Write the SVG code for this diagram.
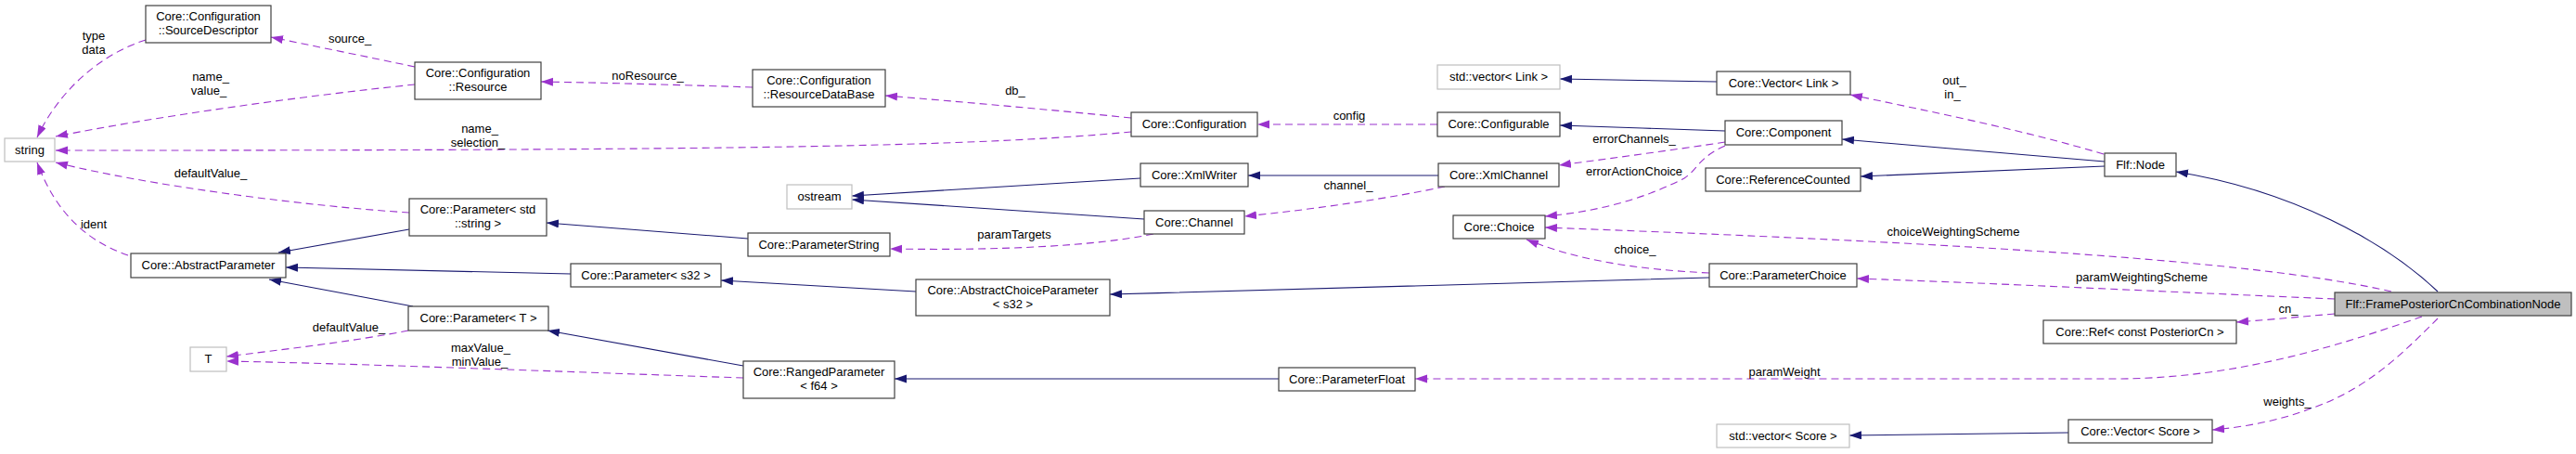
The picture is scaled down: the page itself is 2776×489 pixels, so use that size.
<svg xmlns="http://www.w3.org/2000/svg" width="2776" height="489" viewBox="0 0 2776 489">
<defs>
<style>
.n rect{fill:#ffffff;stroke:#404040;stroke-width:1.2}
.g rect{fill:#ffffff;stroke:#bfbfbf;stroke-width:1.2}
.hl rect{fill:#bfbfbf;stroke:#404040;stroke-width:1.2}
text{font-family:"Liberation Sans",Arial,Helvetica,sans-serif;font-size:13px;fill:#000000}
.t{text-anchor:middle}
.u{fill:none;stroke:#9a32cd;stroke-width:1.1;stroke-dasharray:8,5;marker-end:url(#ap)}
.i{fill:none;stroke:#191970;stroke-width:1.1;marker-end:url(#an)}
</style>
<marker id="ap" markerWidth="14" markerHeight="10" refX="13" refY="4.5" orient="auto" markerUnits="userSpaceOnUse"><path d="M0,0 L13,4.5 L0,9 z" fill="#9a32cd"/></marker>
<marker id="an" markerWidth="14" markerHeight="10" refX="13" refY="4.5" orient="auto" markerUnits="userSpaceOnUse"><path d="M0,0 L13,4.5 L0,9 z" fill="#191970"/></marker>
</defs>
<rect x="0" y="0" width="2776" height="489" fill="#ffffff"/>
<g id="connectors">
<path class="u" d="M157,43 C110,58 65,95 40,148"/>
<path class="u" d="M447,72 C400,62 340,50 292,40"/>
<path class="u" d="M447,91 C330,103 170,125 60,147"/>
<path class="u" d="M1219,142 C1050,158 800,162 60,162"/>
<path class="u" d="M441,229 C330,222 160,200 60,175"/>
<path class="u" d="M138,275 C100,262 62,235 40,175"/>
<path class="u" d="M811,94 C750,92 650,89 583,88"/>
<path class="u" d="M1219,127 C1130,118 1040,110 954,103"/>
<path class="u" d="M1549,134 L1355,134"/>
<path class="u" d="M1243,252 C1180,265 1080,270 959,268"/>
<path class="u" d="M1557,201 C1500,213 1420,225 1341,233"/>
<path class="u" d="M1859,153 C1800,162 1740,170 1680,178"/>
<path class="u" d="M1859,157 C1830,170 1830,182 1815,192 C1770,215 1720,228 1665,233"/>
<path class="u" d="M2577,314 C2450,285 2200,265 1665,245"/>
<path class="u" d="M1842,294 C1760,290 1700,280 1645,258"/>
<path class="u" d="M2516,322 C2350,315 2150,305 2001,300"/>
<path class="u" d="M2516,338 C2480,341 2450,344 2410,347"/>
<path class="u" d="M2610,341 C2540,365 2420,408 2280,408 L1525,408"/>
<path class="u" d="M2627,343 C2590,380 2550,420 2490,440 C2460,452 2420,460 2384,463"/>
<path class="u" d="M2267,166 C2180,140 2080,120 1994,102"/>
<path class="u" d="M440,356 C380,368 300,377 244,384"/>
<path class="u" d="M801,407 C650,402 400,392 244,389"/>
<path class="i" d="M441,247 L300,272"/>
<path class="i" d="M615,295 C500,292 400,290 308,288"/>
<path class="i" d="M445,330 L290,301"/>
<path class="i" d="M806,257 L589,240"/>
<path class="i" d="M987,314 L777,302"/>
<path class="i" d="M801,394 L590,356"/>
<path class="i" d="M1229,192 L918,211"/>
<path class="i" d="M1233,236 L918,215"/>
<path class="i" d="M1550,189 L1345,189"/>
<path class="i" d="M1378,408 L964,408"/>
<path class="i" d="M1842,299 C1600,305 1400,312 1196,317"/>
<path class="i" d="M1859,141 C1800,139 1740,137 1681,135"/>
<path class="i" d="M1850,88 L1681,85"/>
<path class="i" d="M2268,174 C2170,166 2080,158 1985,150"/>
<path class="i" d="M2268,179 L2005,190"/>
<path class="i" d="M2627,314 C2570,260 2470,205 2345,185"/>
<path class="i" d="M2229,466 L1993,469"/>
<g id="labels">
<text class="t" x="101" y="43">type</text>
<text class="t" x="101" y="58">data</text>
<text class="t" x="377" y="46">source_</text>
<text class="t" x="227" y="87">name_</text>
<text class="t" x="225" y="102">value_</text>
<text class="t" x="227" y="191">defaultValue_</text>
<text class="t" x="101" y="246">ident</text>
<text class="t" x="376" y="357">defaultValue_</text>
<text class="t" x="698" y="86">noResource_</text>
<text class="t" x="517" y="143">name_</text>
<text class="t" x="515" y="158">selection_</text>
<text class="t" x="518" y="379">maxValue_</text>
<text class="t" x="517" y="394">minValue_</text>
<text class="t" x="1094" y="102">db_</text>
<text class="t" x="1093" y="257">paramTargets</text>
<text class="t" x="1454" y="129">config</text>
<text class="t" x="1761" y="154">errorChannels_</text>
<text class="t" x="1761" y="189">errorActionChoice</text>
<text class="t" x="1453" y="204">channel_</text>
<text class="t" x="1762" y="273">choice_</text>
<text class="t" x="2106" y="91">out_</text>
<text class="t" x="2104" y="106">in_</text>
<text class="t" x="2105" y="254">choiceWeightingScheme</text>
<text class="t" x="2308" y="303">paramWeightingScheme</text>
<text class="t" x="2466" y="337">cn_</text>
<text class="t" x="1923" y="405">paramWeight</text>
<text class="t" x="2465" y="437">weights_</text>
</g>
</g>
<g id="n_fpccn" class="hl"><rect x="2516" y="315" width="255" height="25"/><text class="t" x="2643.5" y="331.5">Flf::FramePosteriorCnCombinationNode</text></g>
<g id="n_flfnode" class="n"><rect x="2268" y="165" width="77" height="25"/><text class="t" x="2306.5" y="181.5">Flf::Node</text></g>
<g id="n_component" class="n"><rect x="1859" y="130" width="126" height="26"/><text class="t" x="1922" y="147">Core::Component</text></g>
<g id="n_configurable" class="n"><rect x="1549" y="121" width="132" height="26"/><text class="t" x="1615" y="138">Core::Configurable</text></g>
<g id="n_configuration" class="n"><rect x="1219" y="121" width="136" height="26"/><text class="t" x="1287" y="138">Core::Configuration</text></g>
<g id="n_resourcedatabase" class="n"><rect x="811" y="75" width="143" height="40"/><text class="t" x="882.5" y="90.5">Core::Configuration</text><text class="t" x="882.5" y="105.5">::ResourceDataBase</text></g>
<g id="n_resource" class="n"><rect x="447" y="67" width="136" height="40"/><text class="t" x="515" y="82.5">Core::Configuration</text><text class="t" x="515" y="97.5">::Resource</text></g>
<g id="n_sourcedescriptor" class="n"><rect x="157" y="6" width="135" height="40"/><text class="t" x="224.5" y="21.5">Core::Configuration</text><text class="t" x="224.5" y="36.5">::SourceDescriptor</text></g>
<g id="n_string" class="g"><rect x="5" y="149" width="54" height="25"/><text class="t" x="32" y="165.5">string</text></g>
<g id="n_param_stdstring" class="n"><rect x="441" y="214" width="148" height="40"/><text class="t" x="515" y="229.5">Core::Parameter&lt; std</text><text class="t" x="515" y="244.5">::string &gt;</text></g>
<g id="n_abstractparameter" class="n"><rect x="141" y="273" width="167" height="26"/><text class="t" x="224.5" y="290">Core::AbstractParameter</text></g>
<g id="n_param_s32" class="n"><rect x="615" y="284" width="162" height="25"/><text class="t" x="696" y="300.5">Core::Parameter&lt; s32 &gt;</text></g>
<g id="n_param_T" class="n"><rect x="440" y="330" width="151" height="26"/><text class="t" x="515.5" y="347">Core::Parameter&lt; T &gt;</text></g>
<g id="n_T" class="g"><rect x="205" y="374" width="39" height="26"/><text class="t" x="224.5" y="391">T</text></g>
<g id="n_rangedparameter" class="n"><rect x="801" y="389" width="163" height="40"/><text class="t" x="882.5" y="404.5">Core::RangedParameter</text><text class="t" x="882.5" y="419.5">&lt; f64 &gt;</text></g>
<g id="n_parameterstring" class="n"><rect x="806" y="251" width="153" height="25"/><text class="t" x="882.5" y="267.5">Core::ParameterString</text></g>
<g id="n_ostream" class="g"><rect x="848" y="199" width="70" height="26"/><text class="t" x="883" y="216">ostream</text></g>
<g id="n_xmlwriter" class="n"><rect x="1229" y="176" width="116" height="25"/><text class="t" x="1287" y="192.5">Core::XmlWriter</text></g>
<g id="n_channel" class="n"><rect x="1233" y="227" width="108" height="25"/><text class="t" x="1287" y="243.5">Core::Channel</text></g>
<g id="n_xmlchannel" class="n"><rect x="1550" y="176" width="130" height="25"/><text class="t" x="1615" y="192.5">Core::XmlChannel</text></g>
<g id="n_choice" class="n"><rect x="1566" y="232" width="99" height="25"/><text class="t" x="1615.5" y="248.5">Core::Choice</text></g>
<g id="n_abstractchoiceparameter" class="n"><rect x="987" y="301" width="209" height="39"/><text class="t" x="1091.5" y="316.5">Core::AbstractChoiceParameter</text><text class="t" x="1091.5" y="331.5">&lt; s32 &gt;</text></g>
<g id="n_parameterfloat" class="n"><rect x="1378" y="396" width="147" height="25"/><text class="t" x="1451.5" y="412.5">Core::ParameterFloat</text></g>
<g id="n_stdvector_link" class="g"><rect x="1549" y="70" width="132" height="26"/><text class="t" x="1615" y="87">std::vector&lt; Link &gt;</text></g>
<g id="n_vector_link" class="n"><rect x="1850" y="77" width="144" height="25"/><text class="t" x="1922" y="93.5">Core::Vector&lt; Link &gt;</text></g>
<g id="n_referencecounted" class="n"><rect x="1838" y="181" width="167" height="25"/><text class="t" x="1921.5" y="197.5">Core::ReferenceCounted</text></g>
<g id="n_parameterchoice" class="n"><rect x="1842" y="284" width="159" height="25"/><text class="t" x="1921.5" y="300.5">Core::ParameterChoice</text></g>
<g id="n_ref_posteriorcn" class="n"><rect x="2202" y="345" width="208" height="25"/><text class="t" x="2306" y="361.5">Core::Ref&lt; const PosteriorCn &gt;</text></g>
<g id="n_stdvector_score" class="g"><rect x="1850" y="457" width="143" height="25"/><text class="t" x="1921.5" y="473.5">std::vector&lt; Score &gt;</text></g>
<g id="n_vector_score" class="n"><rect x="2229" y="452" width="155" height="25"/><text class="t" x="2306.5" y="468.5">Core::Vector&lt; Score &gt;</text></g>
</svg>
